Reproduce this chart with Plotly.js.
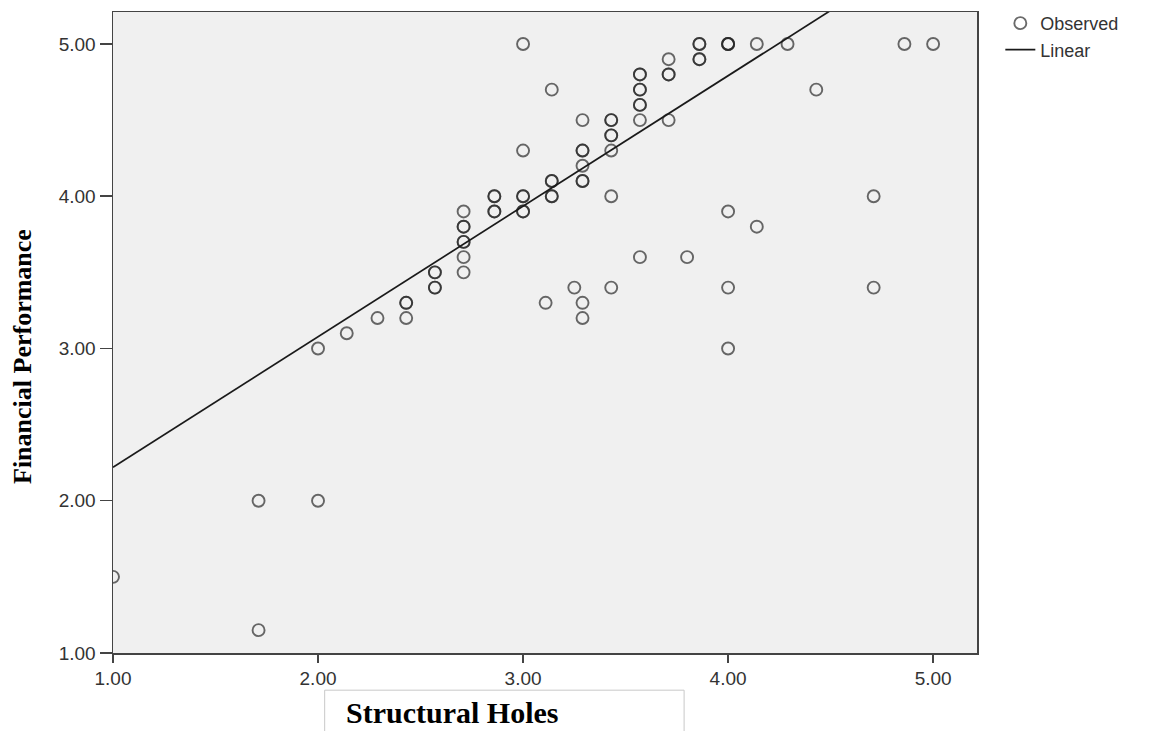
<!DOCTYPE html>
<html>
<head>
<meta charset="utf-8">
<script src="https://cdn.plot.ly/plotly-3.0.1.min.js"></script>
<style>
  html, body { margin: 0; padding: 0; background: #ffffff; }
  #chart { width: 1157px; height: 731px; }
</style>
</head>
<body>
<div id="chart"></div>
<script>
// Observed points (Structural Holes, Financial Performance); repeated pairs are overlapping cases
const xObs = [
  1.00, 1.71, 1.71, 2.00, 2.00, 2.14, 2.29,
  2.43, 2.43, 2.43,
  2.57, 2.57, 2.57, 2.57,
  2.71, 2.71, 2.71, 2.71, 2.71, 2.71, 2.71,
  2.86, 2.86, 2.86, 2.86,
  3.00, 3.00, 3.00, 3.00, 3.00, 3.00,
  3.11,
  3.14, 3.14, 3.14, 3.14, 3.14,
  3.25,
  3.29, 3.29, 3.29, 3.29, 3.29, 3.29, 3.29, 3.29,
  3.43, 3.43, 3.43, 3.43, 3.43, 3.43, 3.43,
  3.57, 3.57, 3.57, 3.57, 3.57, 3.57, 3.57, 3.57,
  3.71, 3.71, 3.71, 3.71,
  3.80,
  3.86, 3.86, 3.86, 3.86,
  4.00, 4.00, 4.00, 4.00, 4.00, 4.00,
  4.14, 4.14, 4.29, 4.43, 4.71, 4.71, 4.86, 5.00
];
const yObs = [
  1.50, 2.00, 1.15, 3.00, 2.00, 3.10, 3.20,
  3.30, 3.30, 3.20,
  3.50, 3.50, 3.40, 3.40,
  3.90, 3.80, 3.80, 3.70, 3.70, 3.60, 3.50,
  4.00, 4.00, 3.90, 3.90,
  5.00, 4.30, 4.00, 4.00, 3.90, 3.90,
  3.30,
  4.70, 4.10, 4.10, 4.00, 4.00,
  3.40,
  4.50, 4.30, 4.30, 4.20, 4.10, 4.10, 3.30, 3.20,
  4.50, 4.50, 4.40, 4.40, 4.30, 4.00, 3.40,
  4.80, 4.80, 4.70, 4.70, 4.60, 4.60, 4.50, 3.60,
  4.90, 4.80, 4.80, 4.50,
  3.60,
  5.00, 5.00, 4.90, 4.90,
  5.00, 5.00, 5.00, 3.90, 3.40, 3.00,
  5.00, 3.80, 5.00, 4.70, 4.00, 3.40, 5.00, 5.00
];

// Linear fit line endpoints
const fitX = [1.00, 4.50];
const fitY = [2.22, 5.22];

// Axis ticks
const tickVals = [1, 2, 3, 4, 5];
const tickText = ["1.00", "2.00", "3.00", "4.00", "5.00"];

const tickFont = { family: "Liberation Sans, Arial, sans-serif", size: 19, color: "#333333" };

const traces = [
  {
    type: "scatter",
    mode: "markers",
    name: "Observed",
    x: xObs,
    y: yObs,
    marker: {
      symbol: "circle-open",
      size: 12,
      color: "rgba(35,35,35,0.68)",
      line: { width: 1.9 }
    },
    cliponaxis: true
  },
  {
    type: "scatter",
    mode: "lines",
    name: "Linear",
    x: fitX,
    y: fitY,
    line: { color: "#1a1a1a", width: 1.7 }
  }
];

const layout = {
  width: 1157,
  height: 731,
  margin: { l: 113, r: 180, t: 12, b: 78, pad: 0, autoexpand: false },
  paper_bgcolor: "#ffffff",
  plot_bgcolor: "#f0f0f0",
  showlegend: true,
  legend: {
    x: 1.027, xanchor: "left",
    y: 1.011, yanchor: "top",
    font: { family: "Liberation Sans, Arial, sans-serif", size: 18, color: "#333333" },
    bgcolor: "rgba(0,0,0,0)",
    tracegroupgap: 0,
    itemwidth: 30
  },
  xaxis: {
    range: [1.0, 5.214],
    tickvals: tickVals,
    ticktext: tickText,
    ticks: "outside",
    ticklen: 8,
    tickwidth: 1.5,
    tickcolor: "#444444",
    showgrid: false,
    zeroline: false,
    showline: true,
    mirror: true,
    linecolor: "#444444",
    linewidth: 1.5,
    tickfont: tickFont,
    automargin: false
  },
  yaxis: {
    range: [1.0, 5.21],
    tickvals: tickVals,
    ticktext: tickText,
    ticks: "outside",
    ticklen: 12,
    tickwidth: 1.5,
    tickcolor: "#444444",
    showgrid: false,
    zeroline: false,
    showline: true,
    mirror: true,
    linecolor: "#444444",
    linewidth: 1.5,
    tickfont: tickFont,
    automargin: false
  },
  shapes: [
    {
      type: "rect",
      xref: "paper", yref: "paper",
      x0: 0.245, x1: 0.661,
      y0: -0.058, y1: -0.14,
      line: { color: "#c8c8c8", width: 1 },
      fillcolor: "rgba(0,0,0,0)"
    }
  ],
  annotations: [
    {
      xref: "paper", yref: "paper",
      x: 0.268, xanchor: "left",
      y: -0.1205, yanchor: "bottom",
      text: "<b>Structural Holes</b>",
      showarrow: false,
      borderpad: 0,
      font: { family: "Liberation Serif, Times New Roman, serif", size: 30, color: "#000000" }
    },
    {
      xref: "paper", yref: "paper",
      x: -0.104, xanchor: "center",
      y: 0.462, yanchor: "middle",
      text: "<b>Financial Performance</b>",
      textangle: -90,
      showarrow: false,
      font: { family: "Liberation Serif, Times New Roman, serif", size: 26, color: "#000000" }
    }
  ]
};

Plotly.newPlot("chart", traces, layout, { displayModeBar: false, staticPlot: true });
</script>
</body>
</html>
